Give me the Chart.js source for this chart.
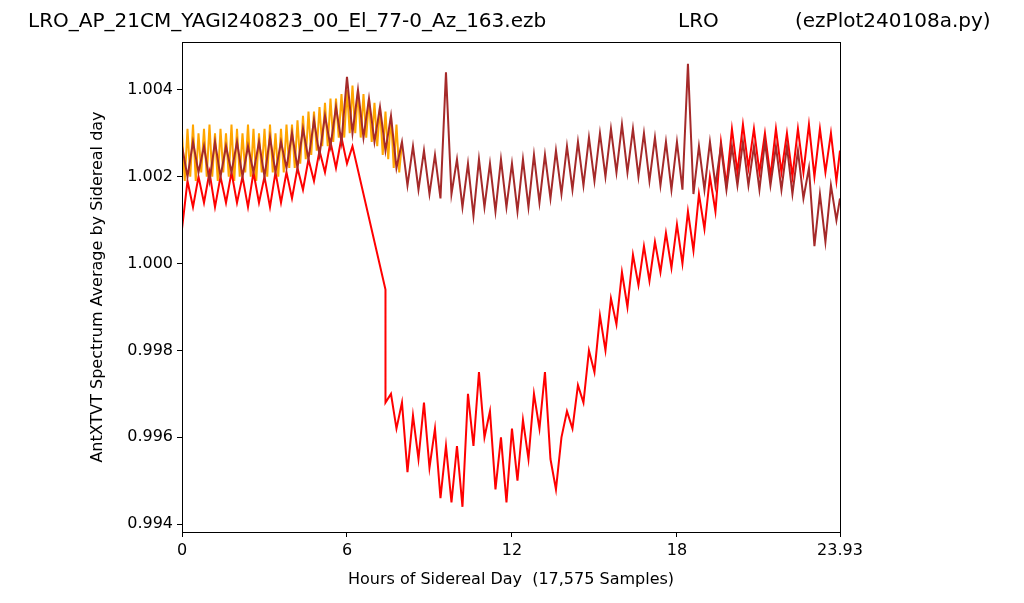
<!DOCTYPE html>
<html><head><meta charset="utf-8">
<script src="https://cdn.jsdelivr.net/npm/chart.js@4/dist/chart.umd.min.js"></script>
<style>html,body{margin:0;padding:0;background:#fff}#c{display:block}</style>
</head><body><canvas id="c" width="1024" height="603"></canvas>
<script>
const titleText = "LRO_AP_21CM_YAGI240823_00_El_77-0_Az_163.ezb";
const titleMid = "LRO";
const titleRight = "(ezPlot240108a.py)";
const xTicks = [0, 6, 12, 18, 23.93];
const yTicks = [0.994, 0.996, 0.998, 1.000, 1.002, 1.004];
const xEnd = 23.93;
// brown: start 0, step 0.2 h
const brownY = [1.0027,1.0020,1.0028,1.0021,1.0027,1.0019,1.0028,1.0020,1.0027,1.0021,
1.0028,1.0020,1.0027,1.0021,1.0028,1.0020,1.0029,1.0021,1.0028,1.0022,
1.0030,1.0022,1.0031,1.0024,1.0033,1.0025,1.0034,1.0027,1.0036,1.0028,
1.0043,1.0030,1.0040,1.0029,1.0038,1.0028,1.0036,1.0026,1.0034,1.0022,
1.0028,1.0018,1.0027,1.0017,1.0026,1.0016,1.0025,1.0015,1.0044,1.0016,
1.0024,1.0013,1.0023,1.0011,1.0024,1.0013,1.0023,1.0012,1.0024,1.0013,
1.0023,1.0012,1.0024,1.0013,1.0025,1.0014,1.0025,1.0015,1.0026,1.0016,
1.0027,1.0017,1.0028,1.0018,1.0029,1.0019,1.0030,1.0020,1.0031,1.0021,
1.0032,1.0021,1.0031,1.0020,1.0030,1.0019,1.0029,1.0018,1.0028,1.0017,
1.0028,1.0017,1.0046,1.0016,1.0027,1.0017,1.0028,1.0018,1.0027,1.0017,
1.0027,1.0018,1.0028,1.0018,1.0027,1.0017,1.0028,1.0018,1.0027,1.0017,
1.0027,1.0016,1.0026,1.0015,1.0022,1.0004,1.0016,1.0005,1.0018,1.0010,1.0015];
// red part A: start 0, step 0.2 h
const redAY = [1.0008,1.0019,1.0013,1.0020,1.0014,1.0021,1.0013,1.0020,1.0014,1.0021,
1.0014,1.0020,1.0013,1.0021,1.0014,1.0020,1.0013,1.0021,1.0014,1.0021,
1.0015,1.0022,1.0017,1.0024,1.0019,1.0026,1.0021,1.0028,1.0022,1.0029,1.0023,1.0027];
const redJumpX = [7.4, 7.4];
const redJumpY = [0.9994, 0.9968];
// red part B: start 7.6, step 0.2 h
const redBY = [0.9970,0.9962,0.9968,0.9952,0.9965,0.9955,0.9968,0.9953,0.9962,0.9946,
0.9958,0.9945,0.9958,0.9944,0.9970,0.9958,0.9975,0.9960,0.9966,0.9948,
0.9960,0.9945,0.9962,0.9950,0.9964,0.9955,0.9970,0.9962,0.9975,0.9955,
0.9948,0.9960,0.9966,0.9962,0.9972,0.9968,0.9980,0.9975,0.9988,0.9980,
0.9992,0.9986,0.9998,0.9990,1.0002,0.9995,1.0004,0.9996,1.0005,0.9998,
1.0007,0.9999,1.0009,1.0000,1.0012,1.0003,1.0016,1.0008,1.0020,1.0012,
1.0028,1.0018,1.0031,1.0021,1.0032,1.0022,1.0031,1.0021,1.0030,1.0020,
1.0031,1.0021,1.0030,1.0020,1.0031,1.0021,1.0032,1.0020,1.0031,1.0021,
1.0030,1.0019,1.0026];
// orange: start 0, step 0.1 h
const orangeY = [1.0030,1.0019,1.0031,1.0020,1.0032,1.0019,1.0030,1.0021,1.0031,1.0020,
1.0032,1.0020,1.0030,1.0019,1.0031,1.0021,1.0030,1.0020,1.0032,1.0019,
1.0031,1.0020,1.0030,1.0021,1.0032,1.0020,1.0031,1.0019,1.0030,1.0021,
1.0031,1.0020,1.0032,1.0021,1.0030,1.0020,1.0031,1.0021,1.0032,1.0022,
1.0032,1.0022,1.0033,1.0023,1.0034,1.0024,1.0035,1.0025,1.0035,1.0026,
1.0036,1.0027,1.0037,1.0027,1.0038,1.0028,1.0038,1.0029,1.0039,1.0029,
1.0040,1.0030,1.0041,1.0030,1.0040,1.0029,1.0039,1.0029,1.0038,1.0028,
1.0037,1.0027,1.0036,1.0025,1.0035,1.0024,1.0034,1.0022,1.0032,1.0021,1.0028];

function pts(ys, start, step){ return ys.map((y,i)=>({x:Math.min(start+i*step,xEnd), y})); }
const redPts = pts(redAY,0,0.2).concat(redJumpX.map((x,i)=>({x,y:redJumpY[i]}))).concat(pts(redBY,7.6,0.2));

const frame = {id:'frame', afterDraw(c){const a=c.chartArea,x=c.ctx;x.save();x.strokeStyle='#000';x.lineWidth=1;x.strokeRect(a.left+0.5,a.top+0.5,a.right-a.left,a.bottom-a.top);
x.fillStyle='#000';x.font='20px "DejaVu Sans"';x.textBaseline='middle';x.textAlign='left';x.fillText(titleText,28,22);x.fillText(titleMid,678,22);x.fillText(titleRight,795,22);x.restore();}};

const F = {size:16,family:'DejaVu Sans'};
new Chart(document.getElementById('c'),{
 type:'line',
 data:{datasets:[
  {data:pts(brownY,0,0.2),borderColor:'#a52a2a',borderWidth:2,pointRadius:0,tension:0},
  {data:redPts,borderColor:'#ff0000',borderWidth:2,pointRadius:0,tension:0},
  {data:pts(orangeY,0,0.1),borderColor:'#ffa500',borderWidth:2,pointRadius:0,tension:0}
 ]},
 options:{responsive:false,animation:false,parsing:false,
  layout:{padding:{left:88,right:184,top:42,bottom:14}},
  plugins:{legend:{display:false},tooltip:{enabled:false}},
  scales:{
   x:{type:'linear',min:0,max:xEnd,grid:{display:true,drawOnChartArea:false,drawTicks:true,tickLength:5,color:'#000'},border:{color:'#000'},
     afterBuildTicks(s){s.ticks=xTicks.map(v=>({value:v}));},
     afterFit(s){s.height=57;},
     ticks:{color:'#000',font:F,maxRotation:0,autoSkip:false,padding:4,callback:v=>String(v)},
     title:{display:true,text:'Hours of Sidereal Day  (17,575 Samples)',color:'#000',font:F,padding:{top:2,bottom:0}}},
   y:{min:0.99382,max:1.0051,grid:{display:true,drawOnChartArea:false,drawTicks:true,tickLength:5,color:'#000'},border:{color:'#000'},
     afterBuildTicks(s){s.ticks=yTicks.map(v=>({value:v}));},
     afterFit(s){s.width=94;},
     ticks:{color:'#000',font:F,padding:4,callback:v=>v.toFixed(3)},
     title:{display:true,text:'AntXTVT Spectrum Average by Sidereal day',color:'#000',font:F,padding:{top:0,bottom:4}}}
  }},
 plugins:[frame]
});
</script></body></html>
